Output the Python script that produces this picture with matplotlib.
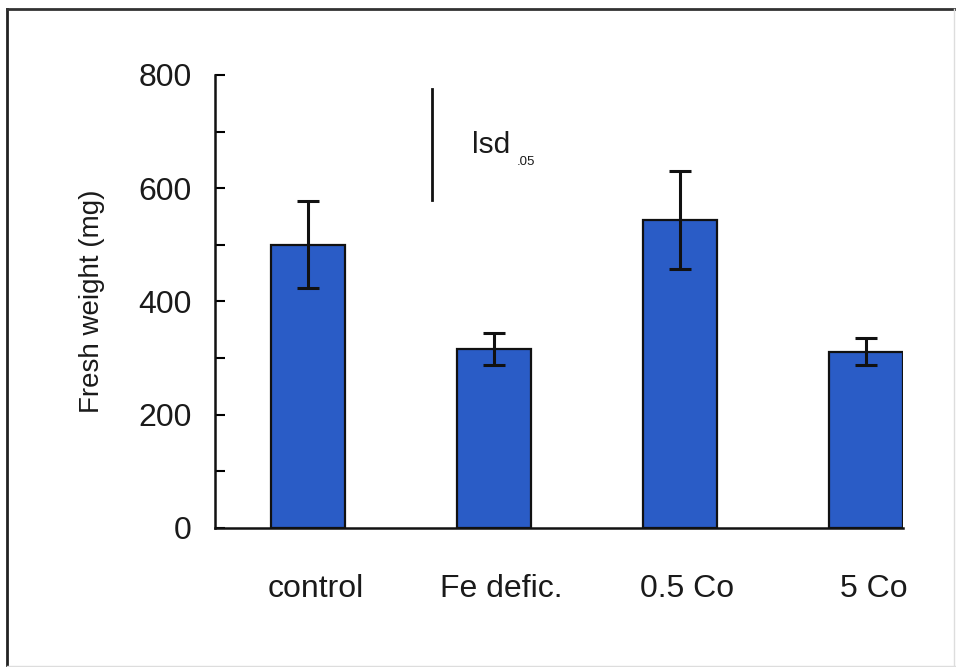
import matplotlib
matplotlib.use('Agg')
import matplotlib.pyplot as plt
from matplotlib.lines import Line2D
from matplotlib.transforms import ScaledTranslation

plt.rcParams['font.family'] = ['Liberation Sans', 'DejaVu Sans']

# dados
tratamentos = ['control', 'Fe defic.', '0.5 Co', '5 Co']
peso = [500, 316, 544, 311]
erro = [77, 29, 86, 24]
lsd_base = 580
lsd = 195

cor_barra = '#2A5CC6'
cor_texto = '#1a1a1a'

fig = plt.figure(figsize=(9.56, 6.67), dpi=100)
ax = fig.add_axes([0.2249, 0.2084, 0.7197, 0.6792])

x = range(len(tratamentos))
ax.bar(x, peso, width=0.4, color=cor_barra, edgecolor='#111111', linewidth=1.6)
ax.errorbar(x, peso, yerr=erro, fmt='none', ecolor='#111111', elinewidth=2.2,
            capsize=8, capthick=2.2)

# barra do lsd
ax.plot([0.667, 0.667], [lsd_base, lsd_base + lsd], color='#111111', linewidth=2)
ax.text(0.882, 662, 'lsd', fontsize=21.5, ha='left', va='baseline', color=cor_texto)
ax.text(1.124, 641, '.05', fontsize=9.5, ha='left', va='baseline', color=cor_texto)

ax.set_xlim(-0.5, 3.2)
ax.set_ylim(0, 800)
ax.set_yticks(range(0, 801, 200))
ax.set_yticks(range(0, 801, 100), minor=True)
ax.tick_params(axis='y', which='both', direction='in', length=7, width=1.5,
               labelsize=23, pad=17, labelcolor=cor_texto)
ax.set_xticks(list(x))
ax.set_xticklabels(tratamentos)
ax.tick_params(axis='x', length=0, labelsize=23, pad=33, labelcolor=cor_texto)
# rótulos do eixo x levemente deslocados para a direita
desloc = ScaledTranslation(5.5 / 72, 0, fig.dpi_scale_trans)
for rotulo in ax.get_xticklabels():
    rotulo.set_transform(rotulo.get_transform() + desloc)
ax.set_ylabel('Fresh weight (mg)', fontsize=20, labelpad=24, color=cor_texto)

for lado in ['top', 'right']:
    ax.spines[lado].set_visible(False)
for lado in ['left', 'bottom']:
    ax.spines[lado].set_linewidth(1.8)
    ax.spines[lado].set_color('#111111')

# moldura
fig.add_artist(Line2D([0.007, 0.007], [0.0, 0.987], color='#222222', linewidth=2,
                      transform=fig.transFigure))
fig.add_artist(Line2D([0.007, 1.0], [0.987, 0.987], color='#333333', linewidth=2,
                      transform=fig.transFigure))
fig.add_artist(Line2D([0.998, 0.998], [0.0, 0.987], color='#dddddd', linewidth=1,
                      transform=fig.transFigure))
fig.add_artist(Line2D([0.007, 1.0], [0.002, 0.002], color='#dddddd', linewidth=1,
                      transform=fig.transFigure))

plt.savefig('out.png', dpi=100)
